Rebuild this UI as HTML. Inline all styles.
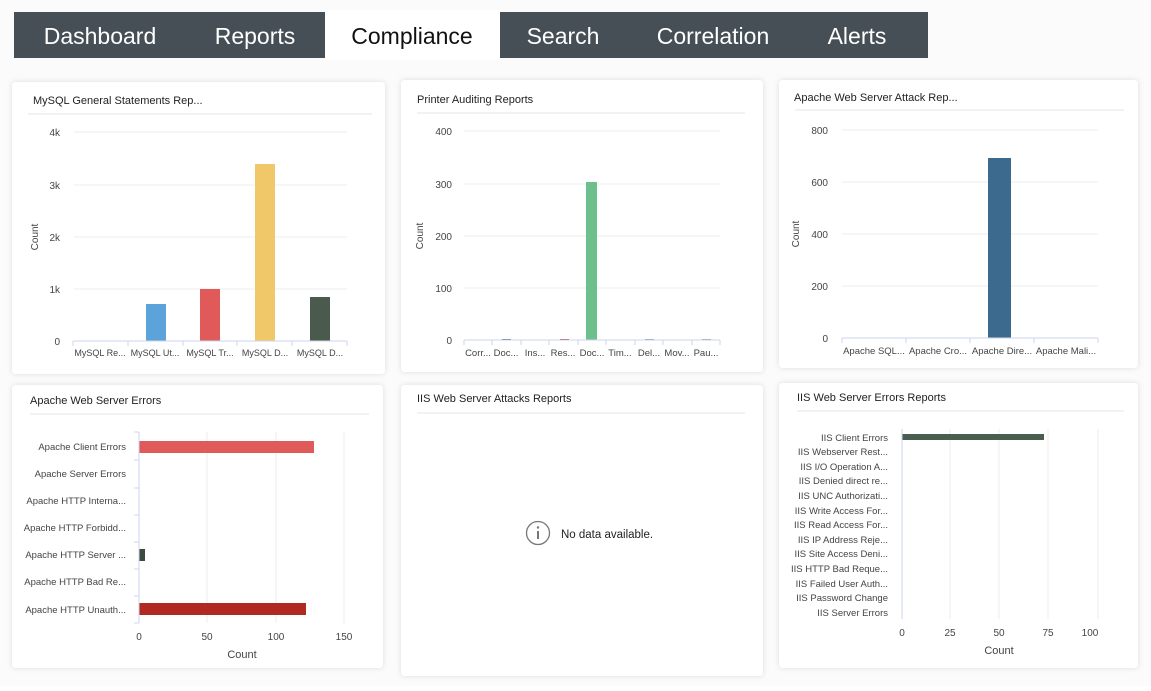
<!DOCTYPE html>
<html><head><meta charset="utf-8"><style>
body{margin:0;background:#fff;width:1151px;height:686px;overflow:hidden;font-family:"Liberation Sans",sans-serif}
svg text{font-family:"Liberation Sans",sans-serif}
</style></head><body>
<svg width="1151" height="686" viewBox="0 0 1151 686" xmlns="http://www.w3.org/2000/svg">
<defs><filter id="sh" x="-5%" y="-5%" width="110%" height="110%"><feDropShadow dx="0" dy="0" stdDeviation="3" flood-color="#000" flood-opacity="0.12"/></filter></defs>
<rect width="1151" height="686" fill="#fbfbfb"/>
<rect x="14" y="12" width="914" height="46" fill="#454f55"/>
<rect x="325" y="10" width="175" height="50" fill="#fff"/>
<g font-size="23" fill="#fff" text-anchor="middle">
<text x="100" y="44">Dashboard</text><text x="255" y="44">Reports</text>
<text x="412" y="44" fill="#111">Compliance</text><text x="563" y="44">Search</text>
<text x="713" y="44">Correlation</text><text x="857" y="44">Alerts</text></g>
<g fill="#fff" filter="url(#sh)">
<rect x="12" y="82" width="373" height="292" rx="4"/>
<rect x="401" y="80" width="362" height="292" rx="4"/>
<rect x="779" y="80" width="359" height="288" rx="4"/>
<rect x="12" y="385" width="371" height="283" rx="4"/>
<rect x="401" y="385" width="362" height="291" rx="4"/>
<rect x="779" y="383" width="359" height="285" rx="4"/>
</g>
<g font-size="11" fill="#222">
<text x="33" y="104">MySQL General Statements Rep...</text>
<text x="417" y="103">Printer Auditing Reports</text>
<text x="794" y="101">Apache Web Server Attack Rep...</text>
<text x="30" y="404">Apache Web Server Errors</text>
<text x="417" y="402">IIS Web Server Attacks Reports</text>
<text x="797" y="401">IIS Web Server Errors Reports</text>
</g>
<g stroke="#eee" stroke-width="1.5">
<line x1="28" y1="114" x2="372" y2="114"/><line x1="417" y1="113" x2="745" y2="113"/>
<line x1="795" y1="110" x2="1124" y2="110"/><line x1="30" y1="414" x2="369" y2="414"/>
<line x1="417" y1="413" x2="745" y2="413"/><line x1="797" y1="411" x2="1124" y2="411"/>
</g>
<!-- chart1 -->
<g stroke="#ececec"><line x1="74" y1="132" x2="347" y2="132"/><line x1="74" y1="185" x2="347" y2="185"/><line x1="74" y1="237" x2="347" y2="237"/><line x1="74" y1="289" x2="347" y2="289"/></g>
<g font-size="10" fill="#444" text-anchor="end"><text x="60" y="136">4k</text><text x="60" y="189">3k</text><text x="60" y="241">2k</text><text x="60" y="293">1k</text><text x="60" y="345">0</text></g>
<text transform="translate(38,237) rotate(-90)" font-size="10" fill="#444" text-anchor="middle">Count</text>
<rect x="146" y="304" width="20" height="37" fill="#5ba3d9"/>
<rect x="200" y="289" width="20" height="52" fill="#e05a5a"/>
<rect x="255" y="164" width="20" height="177" fill="#f0c86a"/>
<rect x="310" y="297" width="20" height="44" fill="#4a5a4d"/>
<g stroke="#cdd5ec"><line x1="73" y1="341" x2="347" y2="341"/><line x1="73" y1="341" x2="73" y2="346"/><line x1="128" y1="341" x2="128" y2="346"/><line x1="183" y1="341" x2="183" y2="346"/><line x1="237" y1="341" x2="237" y2="346"/><line x1="292" y1="341" x2="292" y2="346"/><line x1="347" y1="341" x2="347" y2="346"/></g>
<g font-size="9" fill="#444" text-anchor="middle"><text x="100" y="356">MySQL Re...</text><text x="155" y="356">MySQL Ut...</text><text x="210" y="356">MySQL Tr...</text><text x="265" y="356">MySQL D...</text><text x="320" y="356">MySQL D...</text></g>
<!-- chart2 -->
<g stroke="#ececec"><line x1="464" y1="131" x2="720" y2="131"/><line x1="464" y1="184" x2="720" y2="184"/><line x1="464" y1="236" x2="720" y2="236"/><line x1="464" y1="288" x2="720" y2="288"/></g>
<g font-size="10" fill="#444" text-anchor="end"><text x="452" y="135">400</text><text x="452" y="188">300</text><text x="452" y="240">200</text><text x="452" y="292">100</text><text x="452" y="344">0</text></g>
<text transform="translate(423,236) rotate(-90)" font-size="10" fill="#444" text-anchor="middle">Count</text>
<rect x="586" y="182" width="11" height="158" fill="#6dbf8d"/>
<rect x="502" y="339" width="9" height="1.5" fill="#3c6a8e"/><rect x="560" y="339" width="9" height="1.5" fill="#c03030"/><rect x="645" y="339" width="9" height="1.5" fill="#5ba3d9"/><rect x="702" y="339" width="9" height="1.5" fill="#999"/>
<g stroke="#cdd5ec"><line x1="464" y1="340" x2="720" y2="340"/>
<line x1="464" y1="340" x2="464" y2="345"/><line x1="492" y1="340" x2="492" y2="345"/><line x1="521" y1="340" x2="521" y2="345"/><line x1="549" y1="340" x2="549" y2="345"/><line x1="578" y1="340" x2="578" y2="345"/><line x1="606" y1="340" x2="606" y2="345"/><line x1="635" y1="340" x2="635" y2="345"/><line x1="663" y1="340" x2="663" y2="345"/><line x1="692" y1="340" x2="692" y2="345"/><line x1="720" y1="340" x2="720" y2="345"/></g>
<g font-size="9.5" fill="#444" text-anchor="middle"><text x="478" y="356">Corr...</text><text x="506" y="356">Doc...</text><text x="535" y="356">Ins...</text><text x="563" y="356">Res...</text><text x="592" y="356">Doc...</text><text x="620" y="356">Tim...</text><text x="649" y="356">Del...</text><text x="677" y="356">Mov...</text><text x="706" y="356">Pau...</text></g>
<!-- chart3 -->
<g stroke="#ececec"><line x1="842" y1="130" x2="1098" y2="130"/><line x1="842" y1="182" x2="1098" y2="182"/><line x1="842" y1="234" x2="1098" y2="234"/><line x1="842" y1="286" x2="1098" y2="286"/></g>
<g font-size="10" fill="#444" text-anchor="end"><text x="828" y="134">800</text><text x="828" y="186">600</text><text x="828" y="238">400</text><text x="828" y="290">200</text><text x="828" y="342">0</text></g>
<text transform="translate(799,234) rotate(-90)" font-size="10" fill="#444" text-anchor="middle">Count</text>
<rect x="988" y="158" width="23" height="180" fill="#3c6a8e"/>
<g stroke="#cdd5ec"><line x1="842" y1="338" x2="1098" y2="338"/><line x1="842" y1="338" x2="842" y2="343"/><line x1="906" y1="338" x2="906" y2="343"/><line x1="970" y1="338" x2="970" y2="343"/><line x1="1034" y1="338" x2="1034" y2="343"/><line x1="1098" y1="338" x2="1098" y2="343"/></g>
<g font-size="9.5" fill="#444" text-anchor="middle"><text x="874" y="354">Apache SQL...</text><text x="938" y="354">Apache Cro...</text><text x="1002" y="354">Apache Dire...</text><text x="1066" y="354">Apache Mali...</text></g>
<!-- chart4 -->
<g stroke="#ececec"><line x1="207" y1="432" x2="207" y2="623"/><line x1="276" y1="432" x2="276" y2="623"/><line x1="344" y1="432" x2="344" y2="623"/></g>
<rect x="139" y="441" width="175" height="12" fill="#e05a5a"/>
<rect x="139" y="549" width="6" height="12" fill="#3d4a40"/>
<rect x="139" y="603" width="167" height="12" fill="#b02a22"/>
<g stroke="#cdd5ec"><line x1="139" y1="432" x2="139" y2="623"/><line x1="134" y1="432" x2="139" y2="432"/><line x1="134" y1="460" x2="139" y2="460"/><line x1="134" y1="488" x2="139" y2="488"/><line x1="134" y1="515" x2="139" y2="515"/><line x1="134" y1="542" x2="139" y2="542"/><line x1="134" y1="569" x2="139" y2="569"/><line x1="134" y1="596" x2="139" y2="596"/><line x1="134" y1="623" x2="139" y2="623"/></g>
<g font-size="9.5" fill="#444" text-anchor="end"><text x="126" y="450">Apache Client Errors</text><text x="126" y="477">Apache Server Errors</text><text x="126" y="504">Apache HTTP Interna...</text><text x="126" y="531">Apache HTTP Forbidd...</text><text x="126" y="558">Apache HTTP Server ...</text><text x="126" y="585">Apache HTTP Bad Re...</text><text x="126" y="613">Apache HTTP Unauth...</text></g>
<g font-size="10" fill="#444" text-anchor="middle"><text x="139" y="640">0</text><text x="207" y="640">50</text><text x="276" y="640">100</text><text x="344" y="640">150</text><text x="242" y="658" font-size="11">Count</text></g>
<!-- chart5 -->
<circle cx="538" cy="533" r="11.5" fill="none" stroke="#777" stroke-width="1.3"/>
<circle cx="538" cy="527.5" r="1.2" fill="#777"/><rect x="537" y="531" width="2" height="8" fill="#777"/>
<text x="561" y="538" font-size="11.5" fill="#222">No data available.</text>
<!-- chart6 -->
<g stroke="#ececec"><line x1="950" y1="429" x2="950" y2="619"/><line x1="999" y1="429" x2="999" y2="619"/><line x1="1048" y1="429" x2="1048" y2="619"/><line x1="1098" y1="429" x2="1098" y2="619"/></g>
<rect x="902" y="434" width="142" height="6" fill="#4a5e4f"/>
<g stroke="#cdd5ec"><line x1="902" y1="429" x2="902" y2="619"/></g>
<g font-size="9.5" fill="#444" text-anchor="end">
<text x="888" y="441">IIS Client Errors</text><text x="888" y="455">IIS Webserver Rest...</text><text x="888" y="470">IIS I/O Operation A...</text><text x="888" y="484">IIS Denied direct re...</text><text x="888" y="499">IIS UNC Authorizati...</text><text x="888" y="514">IIS Write Access For...</text><text x="888" y="528">IIS Read Access For...</text><text x="888" y="543">IIS IP Address Reje...</text><text x="888" y="557">IIS Site Access Deni...</text><text x="888" y="572">IIS HTTP Bad Reque...</text><text x="888" y="587">IIS Failed User Auth...</text><text x="888" y="601">IIS Password Change</text><text x="888" y="616">IIS Server Errors</text></g>
<g font-size="10" fill="#444" text-anchor="middle"><text x="902" y="636">0</text><text x="950" y="636">25</text><text x="999" y="636">50</text><text x="1048" y="636">75</text><text x="1090" y="636">100</text><text x="999" y="654" font-size="11">Count</text></g>
</svg>
</body></html>
